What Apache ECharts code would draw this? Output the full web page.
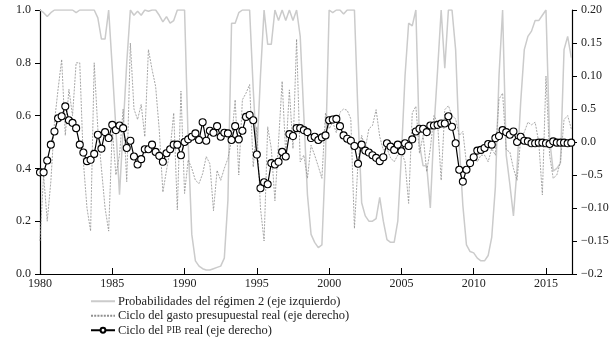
<!DOCTYPE html>
<html>
<head>
<meta charset="utf-8">
<script src="https://cdn.jsdelivr.net/npm/echarts@6/dist/echarts.min.js"></script>
<style>html,body{margin:0;padding:0;background:#fff}#c{width:613px;height:343px}</style>
</head>
<body>
<div id="c"></div>
<script>
// Quarterly data, 1980Q1 .. 2016Q4
const startYear = 1980;
const xTickYears = [1980, 1985, 1990, 1995, 2000, 2005, 2010, 2015];
const leftTickLabels = ['0.0', '0.2', '0.4', '0.6', '0.8', '1.0'];
const rightTickLabels = ['\u22120.2', '\u22120.15', '\u22120.10', '\u22120.5', '0.0', '0.5', '0.10', '0.15', '0.20'];

const seriesNames = [
  'Probabilidades del régimen 2 (eje izquierdo)',
  'Ciclo del gasto presupuestal real (eje derecho)',
  'Ciclo del PIB real (eje derecho)'
];

// Probabilities of regime 2 (left axis)
const probRegime2 = [
  1.0, 0.99, 0.975, 0.99, 1.0, 1.0, 1.0, 1.0, 1.0, 1.0,
  0.99, 1.0, 1.0, 1.0, 1.0, 1.0, 0.97, 0.89, 0.89, 1.0,
  0.78, 0.55, 0.30, 0.55, 0.8, 1.0, 0.98, 0.995, 0.98, 1.0,
  0.995, 1.0, 1.0, 0.98, 0.955, 0.975, 0.95, 0.96, 1.0, 1.0,
  1.0, 0.5, 0.15, 0.05, 0.03, 0.02, 0.015, 0.015, 0.02, 0.025,
  0.03, 0.06, 0.28, 0.95, 0.95, 0.99, 1.0, 1.0, 1.0, 0.7,
  0.45, 0.75, 1.0, 0.87, 0.87, 1.0, 0.96, 1.0, 0.96, 1.0,
  0.96, 1.0, 0.9, 0.6, 0.3, 0.15, 0.12, 0.10, 0.11, 0.45,
  1.0, 0.99, 1.0, 1.0, 0.985, 1.0, 1.0, 1.0, 0.6, 0.27,
  0.22, 0.20, 0.20, 0.21, 0.29, 0.2, 0.13, 0.12, 0.12, 0.2,
  0.45, 0.75, 0.95, 0.94, 1.0, 0.49, 0.41, 0.41, 0.25, 0.55,
  0.77, 1.0, 0.78, 1.0, 1.0, 0.85, 0.49, 0.26, 0.11, 0.085,
  0.08, 0.06, 0.05, 0.05, 0.07, 0.14, 0.33, 0.75, 1.0, 0.45,
  0.34, 0.22, 0.40, 0.65, 0.85, 0.9, 0.92, 0.96, 0.96, 0.98,
  1.0, 0.51, 0.39, 0.40, 0.42, 0.85, 0.90, 0.82
];

// Real budget spending cycle (right axis)
const gastoCycle = [
  -0.15, -0.05, -0.12, -0.06, 0.03, 0.08, 0.125, 0.01, 0.08, 0.04,
  0.12, 0.12, -0.03, -0.10, -0.135, 0.12, 0.02, -0.04, -0.10, -0.135,
  0.02, -0.05, -0.02, 0.05, -0.06, 0.15, 0.05, 0.034, 0.057, 0.008,
  0.14, 0.11, 0.084, 0.018, -0.076, -0.043, -0.012, 0.044, -0.103, 0.077,
  -0.078, -0.027, -0.04, -0.058, -0.063, -0.048, -0.022, -0.033, -0.104, -0.043,
  -0.058, -0.04, -0.025, 0.003, 0.064, -0.05, 0.064, 0.074, 0.087, -0.038,
  0.023, -0.10, -0.15, 0.023, -0.01, -0.089, 0.0, 0.092, -0.02, 0.079,
  -0.01, 0.156, -0.03, -0.02, -0.055, -0.005, -0.02, -0.037, -0.055, 0.044,
  0.02, 0.03, 0.014, 0.045, 0.05, 0.048, 0.035, -0.131, -0.03, 0.01,
  -0.01, 0.02, 0.025, 0.049, 0.008, -0.012, -0.01, -0.024, -0.03, -0.02,
  -0.015, -0.03, -0.093, 0.044, 0.054, -0.017, 0.01, -0.045, -0.01, 0.04,
  0.03, -0.058, 0.049, 0.055, 0.04, 0.035, 0.01, 0.016, -0.033, -0.03,
  -0.02, -0.03, -0.02, -0.02, -0.03, -0.01, -0.02, 0.065, 0.074, -0.012,
  -0.015, -0.04, -0.058, 0.005, 0.015, 0.03, 0.026, 0.03, 0.0, -0.08,
  0.1, -0.02, -0.055, -0.05, -0.03, 0.034, 0.04, 0.02
];

// Real GDP cycle (right axis)
const pibCycle = [
  -0.046, -0.046, -0.028, -0.004, 0.016, 0.036, 0.039, 0.054, 0.033, 0.029,
  0.021, -0.004, -0.016, -0.029, -0.027, -0.018, 0.011, -0.010, 0.015, 0.006,
  0.026, 0.018, 0.025, 0.021, -0.009, 0.002, -0.022, -0.034, -0.026, -0.011,
  -0.011, -0.004, -0.015, -0.021, -0.030, -0.017, -0.011, -0.004, -0.004, -0.020,
  0.000, 0.004, 0.008, 0.013, 0.003, 0.030, 0.002, 0.017, 0.014, 0.024,
  0.008, 0.014, 0.013, 0.003, 0.024, 0.004, 0.017, 0.038, 0.041, 0.033,
  -0.019, -0.070, -0.061, -0.064, -0.032, -0.034, -0.030, -0.015, -0.022, 0.012,
  0.009, 0.021, 0.021, 0.018, 0.015, 0.006, 0.008, 0.003, 0.007, 0.010,
  0.033, 0.034, 0.035, 0.024, 0.010, 0.005, 0.002, -0.006, -0.033, -0.004,
  -0.013, -0.016, -0.020, -0.024, -0.029, -0.023, -0.002, -0.007, -0.012, -0.004,
  -0.014, -0.002, -0.006, 0.004, 0.016, 0.020, 0.020, 0.015, 0.025, 0.025,
  0.026, 0.028, 0.028, 0.039, 0.023, -0.002, -0.042, -0.060, -0.042, -0.032,
  -0.023, -0.013, -0.012, -0.009, -0.003, -0.004, 0.006, 0.009, 0.018, 0.015,
  0.011, 0.016, 0.000, 0.008, 0.002, 0.001, -0.002, -0.002, -0.001, -0.001,
  -0.002, -0.003, 0.001, -0.001, -0.001, -0.001, -0.002, -0.001
];

const toPairs = arr => arr.map((v, i) => [startYear + i / 4, v]);

const font = '"Liberation Serif", "DejaVu Serif", serif';
const txt = '#222';
const grayCol = '#cbcbcb';
const dashCol = '#909090';
const hiddenSymbol = {color: 'rgba(0,0,0,0)', borderColor: 'rgba(0,0,0,0)', borderWidth: 0};

const chart = echarts.init(document.getElementById('c'), null, {renderer: 'canvas'});
chart.setOption({
  animation: false,
  backgroundColor: '#fff',
  grid: {left: 40, right: 41, top: 10, bottom: 69, containLabel: false},
  xAxis: {
    type: 'value', min: 1980, max: 2016.8, interval: 5,
    axisLine: {lineStyle: {color: '#000', width: 1.2}},
    axisTick: {inside: true, length: 6, lineStyle: {color: '#000'}},
    axisLabel: {
      margin: 4, color: txt, fontFamily: font, fontSize: 12,
      formatter: v => (xTickYears.indexOf(Math.round(v)) >= 0 && Math.abs(v - Math.round(v)) < 1e-6) ? String(Math.round(v)) : ''
    },
    splitLine: {show: false}
  },
  yAxis: [
    {
      type: 'value', min: 0, max: 1, interval: 0.2, position: 'left',
      axisLine: {show: true, lineStyle: {color: '#000', width: 1.2}},
      axisTick: {show: true, length: 5, lineStyle: {color: '#000'}},
      axisLabel: {
        margin: 9, color: txt, fontFamily: font, fontSize: 12,
        formatter: v => leftTickLabels[Math.round(v / 0.2)]
      },
      splitLine: {show: false}
    },
    {
      type: 'value', min: -0.2, max: 0.2, interval: 0.05, position: 'right',
      axisLine: {show: true, lineStyle: {color: '#000', width: 1.2}},
      axisTick: {show: true, length: 5, lineStyle: {color: '#000'}},
      axisLabel: {
        margin: 9, color: txt, fontFamily: font, fontSize: 12,
        formatter: v => rightTickLabels[Math.round((v + 0.2) / 0.05)]
      },
      splitLine: {show: false}
    }
  ],
  legend: {
    orient: 'vertical', left: 90, top: 294, padding: 0,
    itemWidth: 24, itemHeight: 6, itemGap: 0,
    data: [
      {name: seriesNames[0], itemStyle: hiddenSymbol},
      {name: seriesNames[1], itemStyle: hiddenSymbol},
      {name: seriesNames[2]}
    ],
    textStyle: {
      color: txt, fontFamily: font, fontSize: 12.5, lineHeight: 14.5, padding: [0, 0, 0, -2],
      rich: {sc: {fontFamily: font, fontSize: 9.5, lineHeight: 14.5, color: txt}}
    },
    formatter: name => name.replace('PIB', '{sc|PIB}')
  },
  series: [
    {
      name: seriesNames[0], type: 'line', yAxisIndex: 0,
      data: toPairs(probRegime2), symbol: 'none',
      lineStyle: {color: grayCol, width: 1.5},
      itemStyle: {color: grayCol}, z: 1
    },
    {
      name: seriesNames[1], type: 'line', yAxisIndex: 1,
      data: toPairs(gastoCycle), symbol: 'none',
      lineStyle: {color: dashCol, width: 0.8, type: [2, 1.2]},
      itemStyle: {color: dashCol}, z: 2
    },
    {
      name: seriesNames[2], type: 'line', yAxisIndex: 1,
      data: toPairs(pibCycle), symbol: 'circle', symbolSize: 7, showSymbol: true,
      lineStyle: {color: '#000', width: 1.2},
      itemStyle: {color: '#fff', borderColor: '#000', borderWidth: 1.1}, z: 3
    }
  ]
});
</script>
</body>
</html>
